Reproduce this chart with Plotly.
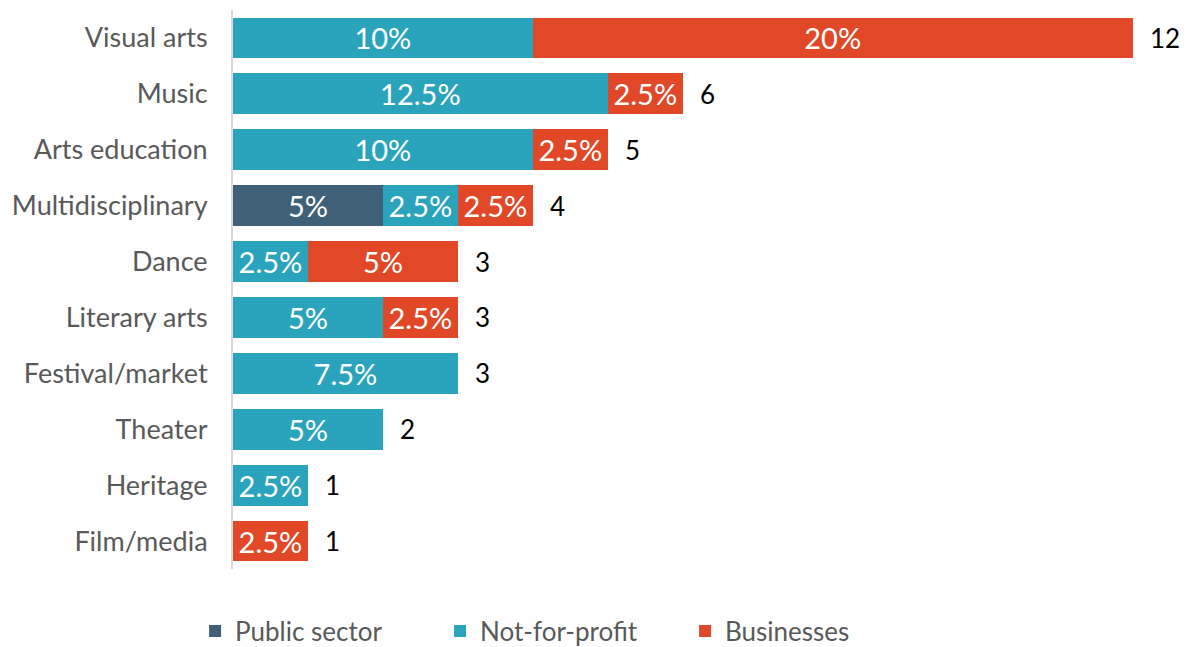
import plotly.graph_objects as go

# Data: number of organizations per discipline, by sector (2.5% = 1 of 40)
categories = ["Visual arts", "Music", "Arts education", "Multidisciplinary", "Dance",
              "Literary arts", "Festival/market", "Theater", "Heritage", "Film/media"]
public_sector = [0, 0, 0, 2, 0, 0, 0, 0, 0, 0]
not_for_profit = [4, 5, 4, 1, 1, 2, 3, 2, 1, 0]
businesses = [8, 1, 1, 1, 2, 1, 0, 0, 0, 1]
total_orgs = 40

totals = [p + n + b for p, n, b in zip(public_sector, not_for_profit, businesses)]

def pct_labels(vals):
    out = []
    for v in vals:
        if v == 0:
            out.append("")
        else:
            p = v / total_orgs * 100
            out.append(f"{p:g}%")
    return out

FONT = "Lato, 'Open Sans', sans-serif"

fig = go.Figure()
series = [
    ("Public sector", public_sector, "#3F6076"),
    ("Not-for-profit", not_for_profit, "#2AA4BD"),
    ("Businesses", businesses, "#E04827"),
]
for name, vals, color in series:
    fig.add_trace(go.Bar(
        y=categories, x=vals, name=name, orientation="h",
        marker=dict(color=color, line=dict(width=0)),
        text=pct_labels(vals), textposition="inside", insidetextanchor="middle",
        textfont=dict(color="white", size=29, family=FONT),
        constraintext="none",
    ))

# total count labels at the end of each bar
for cat, t in zip(categories, totals):
    fig.add_annotation(
        x=t, y=cat, xref="x", yref="y", text=str(t), showarrow=False,
        xanchor="left", xshift=15, font=dict(color="black", size=26, family=FONT),
    )

# page body adds an 8px margin, so the figure is 8px smaller than the window
fig.update_layout(
    barmode="stack",
    bargap=0.27,
    width=1184, height=639,
    margin=dict(l=225, r=22, t=2, b=78, autoexpand=False),
    plot_bgcolor="white", paper_bgcolor="white",
    font=dict(family=FONT, color="#595959", size=26),
    legend=dict(orientation="h", xref="container", x=0.158, xanchor="left",
                y=-0.111, yanchor="middle",
                font=dict(size=26, color="#595959"), traceorder="normal",
                entrywidth=200, itemwidth=30, tracegroupgap=0),
    xaxis=dict(range=[0, 12.5], visible=False, showgrid=False, zeroline=False),
    yaxis=dict(autorange="reversed", showgrid=False, zeroline=False, automargin=False,
               showline=True, linecolor="#D9D9D9", linewidth=2,
               ticks="", ticklabelstandoff=18, tickfont=dict(size=27, color="#595959")),
)

fig.write_html("out.html")
